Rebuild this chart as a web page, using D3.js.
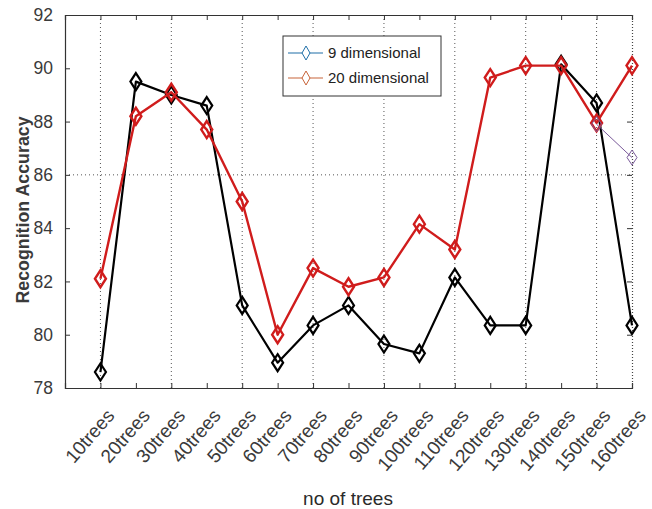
<!DOCTYPE html>
<html>
<head>
<meta charset="utf-8">
<script src="https://cdn.jsdelivr.net/npm/d3@7"></script>
<style>
  html, body { margin: 0; padding: 0; background: #fff; }
  svg { display: block; font-family: Arial, "Liberation Sans", sans-serif; }
</style>
</head>
<body>
<svg id="chart" width="652" height="509"></svg>
<script>
// Tree counts on the x axis
const categories = ["10trees","20trees","30trees","40trees","50trees","60trees","70trees","80trees",
  "90trees","100trees","110trees","120trees","130trees","140trees","150trees","160trees"];

// Recognition accuracy per feature set
const dim9Values  = [78.6, 89.5, 89.0, 88.6, 81.1, 78.95, 80.35, 81.1, 79.65, 79.3, 82.15, 80.35, 80.35, 90.15, 88.7, 80.35];
const dim20Values = [82.1, 88.2, 89.1, 87.7, 85.0, 80.0, 82.5, 81.8, 82.15, 84.15, 83.2, 89.65, 90.1, 90.1, 87.95, 90.1];

// Short thin trace over the last two tree counts
const extraCategories = ["150trees", "160trees"];
const extraValues = [87.9, 86.65];

const yTicks = [78, 80, 82, 84, 86, 88, 90, 92];
const legendLabels = ["9 dimensional", "20 dimensional"];

const svg = d3.select("#chart");
const m = { left: 65, right: 632, top: 15, bottom: 388 };

const idx = c => categories.indexOf(c) + 1;
const x = d3.scaleLinear().domain([0, categories.length]).range([m.left, m.right]);
const y = d3.scaleLinear().domain([78, 92]).range([m.bottom, m.top]);

const axisCol = "#333";
const g = svg.append("g");

// Vertical dotted grid lines at every other category
categories.forEach((c, i) => {
  if (i % 2 === 0) {
    g.append("line")
      .attr("x1", x(i + 1)).attr("x2", x(i + 1))
      .attr("y1", m.top).attr("y2", m.bottom)
      .attr("stroke", "#555").attr("stroke-width", 1)
      .attr("stroke-dasharray", "1,3");
  }
});
// Horizontal dotted grid line at 86
g.append("line")
  .attr("x1", m.left).attr("x2", m.right)
  .attr("y1", y(86)).attr("y2", y(86))
  .attr("stroke", "#555").attr("stroke-width", 1)
  .attr("stroke-dasharray", "1,3");

// Axes with inward ticks
const xAxisB = d3.axisBottom(x).tickValues(d3.range(1, categories.length + 1))
  .tickSize(-5).tickFormat("");
const xAxisT = d3.axisTop(x).tickValues(d3.range(1, categories.length + 1))
  .tickSize(-5).tickFormat("");
const yAxisL = d3.axisLeft(y).tickValues(yTicks).tickSize(-5).tickFormat(d3.format("d")).tickPadding(12);
const yAxisR = d3.axisRight(y).tickValues(yTicks).tickSize(-5).tickFormat("");

function styleAxis(sel) {
  sel.selectAll("path").attr("stroke", axisCol).attr("stroke-width", 1.2);
  sel.selectAll("line").attr("stroke", axisCol).attr("stroke-width", 1);
}

g.append("g").attr("transform", `translate(0,${m.bottom})`).call(xAxisB).call(styleAxis);
g.append("g").attr("transform", `translate(0,${m.top})`).call(xAxisT).call(styleAxis);
const gl = g.append("g").attr("transform", `translate(${m.left},0)`).call(yAxisL).call(styleAxis);
const gr = g.append("g").attr("transform", `translate(${m.right},0)`).call(yAxisR).call(styleAxis);
gr.select("path").attr("stroke-dasharray", "1,2").attr("stroke", "#444");
gl.selectAll("text").attr("font-size", 17.5).attr("fill", "#3a3a3a")
  .attr("font-family", "Arial, 'Liberation Sans', sans-serif");

// Rotated category labels
g.append("g").selectAll("text").data(categories).join("text")
  .attr("transform", (d, i) => `translate(${x(i + 1) + 10},${m.bottom + 24}) rotate(-49)`)
  .attr("text-anchor", "end")
  .attr("dy", "0.35em")
  .attr("font-size", 19)
  .attr("fill", "#3a3a3a")
  .text(d => d);

// Axis titles
svg.append("text")
  .attr("x", 348).attr("y", 505)
  .attr("text-anchor", "middle").attr("font-size", 19).attr("fill", "#2a2a2a")
  .text("no of trees");
svg.append("text")
  .attr("transform", `translate(29,210) rotate(-90)`)
  .attr("text-anchor", "middle").attr("font-size", 17.8).attr("font-weight", "bold").attr("fill", "#3a3a3a")
  .text("Recognition Accuracy");

// Series drawing
const diamond = (cx, cy, w, h) =>
  `M${cx},${cy - h / 2}L${cx + w / 2},${cy}L${cx},${cy + h / 2}L${cx - w / 2},${cy}Z`;

function drawSeries(cats, vals, color, lw, mw, mh, mlw) {
  const pts = cats.map((c, i) => [x(idx(c)), y(vals[i])]);
  g.append("path")
    .attr("d", d3.line()(pts))
    .attr("fill", "none").attr("stroke", color).attr("stroke-width", lw)
    .attr("stroke-linejoin", "round");
  g.append("g").selectAll("path").data(pts).join("path")
    .attr("d", p => diamond(p[0], p[1], mw, mh))
    .attr("fill", "none").attr("stroke", color).attr("stroke-width", mlw);
}

drawSeries(categories, dim9Values, "#000", 2.2, 11, 17, 2.2);
drawSeries(categories, dim20Values, "#d01c1c", 2.4, 11, 17, 2.4);
drawSeries(extraCategories, extraValues, "#7a5a9a", 1, 10, 15, 1);

// Legend
const lg = svg.append("g");
lg.append("rect").attr("x", 283).attr("y", 36).attr("width", 158).attr("height", 60)
  .attr("fill", "#fff").attr("stroke", "#333").attr("stroke-width", 1);
const legendColors = ["#1f6fa8", "#c8643a"];
legendLabels.forEach((lab, i) => {
  const ly = 53 + i * 25;
  lg.append("line").attr("x1", 288).attr("x2", 323).attr("y1", ly).attr("y2", ly)
    .attr("stroke", legendColors[i]).attr("stroke-width", 1.2);
  lg.append("path").attr("d", diamond(306, ly, 8, 14))
    .attr("fill", "#fff").attr("stroke", legendColors[i]).attr("stroke-width", 1);
  lg.append("text").attr("x", 328).attr("y", ly).attr("dy", "0.35em")
    .attr("font-size", 15).attr("fill", "#222").text(lab);
});
</script>
</body>
</html>
